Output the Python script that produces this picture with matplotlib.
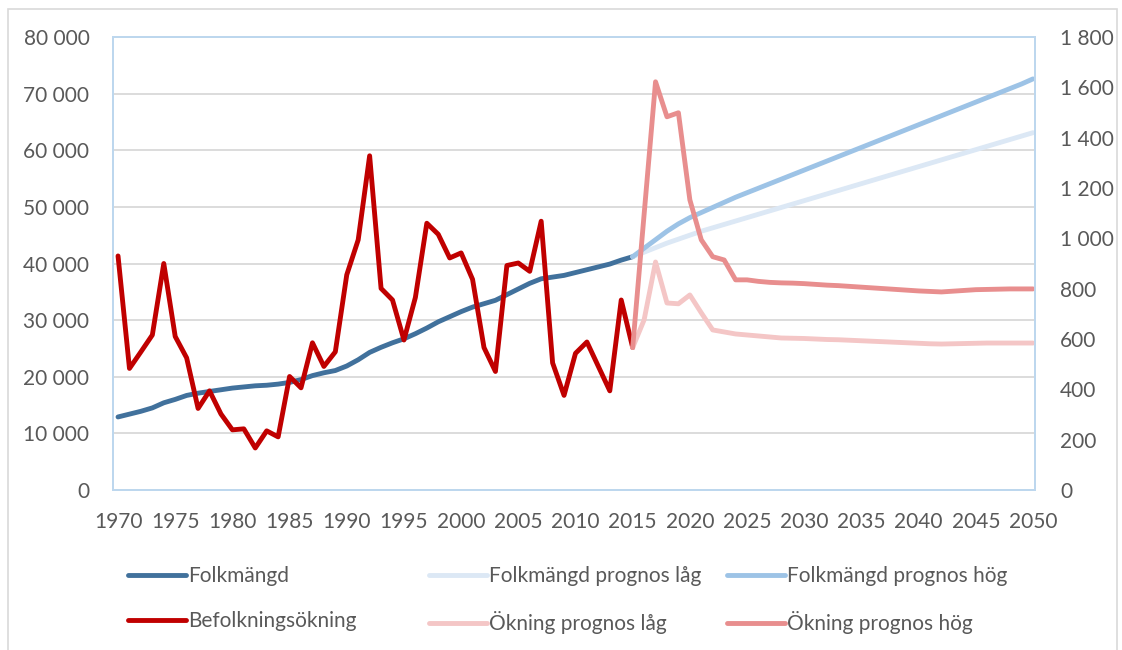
import matplotlib
matplotlib.use("Agg")
import matplotlib.pyplot as plt
from matplotlib.patches import Rectangle
from matplotlib.ticker import FuncFormatter

years_hist = list(range(1970, 2016))
years_prog = list(range(2015, 2051))

folkmangd = [12900, 13400, 13900, 14500, 15400, 16000, 16700, 17100, 17400, 17700,
             18000, 18200, 18400, 18500, 18700, 19000, 19500, 20200, 20700, 21100,
             21900, 23000, 24300, 25200, 26000, 26700, 27600, 28600, 29700, 30600,
             31500, 32300, 32900, 33500, 34500, 35500, 36500, 37300, 37600, 37900,
             38400, 38900, 39400, 39900, 40600, 41200]
okning = [930, 483, 549, 616, 900, 610, 525, 324, 394, 302,
          239, 243, 167, 235, 211, 451, 406, 585, 491, 549,
          855, 994, 1328, 801, 755, 596, 765, 1060, 1016, 922,
          942, 837, 566, 471, 892, 902, 869, 1068, 505, 376,
          543, 588, 491, 394, 755, 566]

folk_lag = [41200, 42000, 42800, 43600, 44300, 45000, 45700, 46300, 46900, 47500,
            48100, 48700, 49300, 49900, 50500, 51100, 51700, 52300, 52900, 53500,
            54100, 54700, 55300, 55900, 56500, 57100, 57700, 58300, 58900, 59500,
            60100, 60700, 61300, 61900, 62500, 63100]
folk_hog = [41200, 42700, 44200, 45700, 47000, 48100, 49000, 49900, 50800, 51700,
            52500, 53300, 54100, 54900, 55700, 56500, 57300, 58100, 58900, 59700,
            60500, 61300, 62100, 62900, 63700, 64500, 65300, 66100, 66900, 67700,
            68500, 69300, 70100, 70900, 71700, 72600]
okn_lag = [566, 676, 906, 743, 740, 775, 704, 636, 628, 620,
           616, 612, 608, 604, 603, 602, 600, 598, 597, 595,
           593, 591, 589, 587, 585, 583, 581, 580, 581, 582,
           583, 584, 584, 584, 584, 584]
okn_hog = [566, 1095, 1622, 1483, 1499, 1153, 994, 927, 914, 835,
           835, 829, 825, 823, 822, 820, 817, 814, 812, 809,
           806, 803, 800, 797, 794, 791, 789, 787, 790, 793,
           796, 797, 798, 799, 799, 799]

xticks = list(range(1970, 2051, 5))
left_ticks = list(range(0, 80001, 10000))
right_ticks = list(range(0, 1801, 200))

C_FOLK = "#41719C"
C_FOLK_LAG = "#DCE8F5"
C_FOLK_HOG = "#9DC3E6"
C_OKN = "#C00000"
C_OKN_LAG = "#F4C6C6"
C_OKN_HOG = "#E88E8E"
TXT = "#595959"
FONT = "Lato"
FS = 15

plt.rcParams['font.family'] = [FONT, 'DejaVu Sans']

W, H = 1122, 650
fig = plt.figure(figsize=(W / 100, H / 100), dpi=100)
fig.patches.append(Rectangle((8 / W, -0.01), (1117 - 8) / W, 1.01 - 9 / H,
                             transform=fig.transFigure, fill=False,
                             edgecolor="#D9D9D9", linewidth=1.2))

ax = fig.add_axes([113 / W, 1 - 490 / H, (1035 - 113) / W, (490 - 37) / H])
ax2 = ax.twinx()

lw = 3.5
kw = dict(linewidth=lw, solid_capstyle='round', solid_joinstyle='round')
l1, = ax.plot(years_hist, folkmangd, color=C_FOLK, label="Folkmängd", **kw)
l2, = ax.plot(years_prog, folk_lag, color=C_FOLK_LAG, label="Folkmängd prognos låg", **kw)
l3, = ax.plot(years_prog, folk_hog, color=C_FOLK_HOG, label="Folkmängd prognos hög", **kw)
l4, = ax2.plot(years_hist, okning, color=C_OKN, label="Befolkningsökning", **kw)
l5, = ax2.plot(years_prog, okn_lag, color=C_OKN_LAG, label="Ökning prognos låg", **kw)
l6, = ax2.plot(years_prog, okn_hog, color=C_OKN_HOG, label="Ökning prognos hög", **kw)

ax.set_xlim(1969.56, 2050.18)
ax.set_ylim(0, 80000)
ax2.set_ylim(0, 1800)

fmt = FuncFormatter(lambda v, p: f"{int(v):,}".replace(",", " "))
ax.set_yticks(left_ticks)
ax.yaxis.set_major_formatter(fmt)
ax2.set_yticks(right_ticks)
ax2.yaxis.set_major_formatter(fmt)
ax.set_xticks(xticks)

ax.grid(axis='y', color="#D9D9D9", linewidth=1.3)
ax.set_axisbelow(True)
for a in (ax, ax2):
    for s in a.spines.values():
        s.set_color("#BDD7EE")
        s.set_linewidth(1.3)
ax.tick_params(axis='y', length=0, pad=17, labelsize=FS, labelcolor=TXT)
ax2.tick_params(axis='y', length=0, pad=18, labelsize=FS, labelcolor=TXT)
ax.tick_params(axis='x', length=0, pad=16, labelsize=FS, labelcolor=TXT)

leg_kw = dict(frameon=False, fontsize=FS, handlelength=2.8, handletextpad=0.1,
              labelspacing=1.2, labelcolor=TXT, loc='upper left', borderpad=0,
              borderaxespad=0)
cols = [((l1, l4), 128), ((l2, l5), 429), ((l3, l6), 727)]
for handles, x in cols:
    lg = fig.legend(handles=list(handles), labels=[h.get_label() for h in handles],
                    bbox_to_anchor=(x / W, 1 - 566 / H), **leg_kw)

fig.savefig("out.png", dpi=100, facecolor="white")
